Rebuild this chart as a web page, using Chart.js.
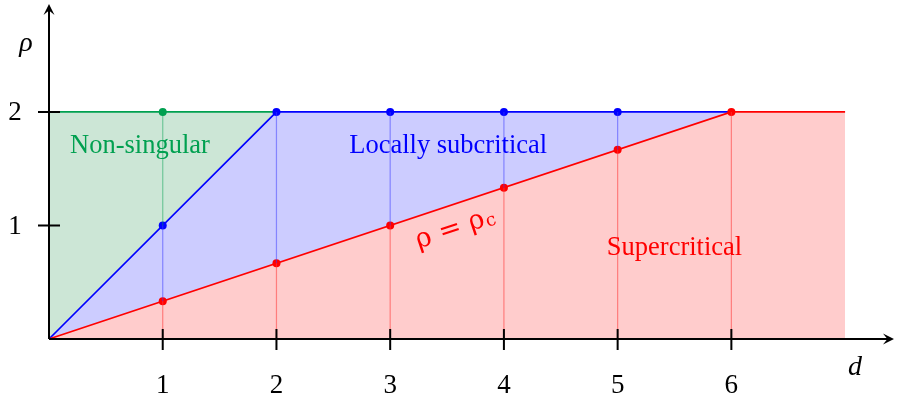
<!DOCTYPE html>
<html><head><meta charset="utf-8">
<script src="https://cdn.jsdelivr.net/npm/chart.js@4"></script>
<style>html,body{margin:0;padding:0;background:#fff;}#wrap{width:898px;height:404px;}</style>
</head><body><div id="wrap"><canvas id="c" width="898" height="404"></canvas></div>
<script>
// ---- data ----
const dTicks = [1, 2, 3, 4, 5, 6];
const rhoTicks = [1, 2];
const dGrid = [1, 2, 3, 4, 5, 6];
const rhoCritical = [0.333, 0.667, 1, 1.333, 1.667, 2];   // red points (rho = rho_c)
const rhoUpper = [1, 2, 2, 2, 2, 2];                      // blue points (upper edge of locally subcritical)
const rhoMax = 2;
const redBoundaryD = [0, 6, 7];
const redBoundaryRho = [0, 2, 2];
const blueBoundaryD = [0, 2, 6];
const blueBoundaryRho = [0, 2, 2];
const greenBoundaryD = [0, 2];
const greenBoundaryRho = [2, 2];
const greenPointD = [1];
const greenPointRho = [2];
const bluePointD = [1, 2, 3, 4, 5];
const bluePointRho = [1, 2, 2, 2, 2];

const RED = 'rgb(255,0,0)', BLUE = 'rgb(0,0,255)', GREEN = 'rgb(0,160,80)';
const pts = (xs, ys) => xs.map((x, i) => ({x, y: ys[i]}));

// vertical segments
const redSeg = [], blueSeg = [], greenSeg = [];
dGrid.forEach((d, i) => {
  redSeg.push({x: d, y: 0}, {x: d, y: rhoCritical[i]}, {x: d, y: null});
  if (rhoUpper[i] > rhoCritical[i]) blueSeg.push({x: d, y: rhoCritical[i]}, {x: d, y: rhoUpper[i]}, {x: d, y: null});
  if (rhoMax > rhoUpper[i]) greenSeg.push({x: d, y: rhoUpper[i]}, {x: d, y: rhoMax}, {x: d, y: null});
});

const axesPlugin = {
  id: 'axes',
  afterDatasetsDraw(chart) {
    const ctx = chart.ctx, xs = chart.scales.x, ys = chart.scales.y;
    const x0 = xs.getPixelForValue(0), y0 = ys.getPixelForValue(0);
    const ca = chart.chartArea;
    ctx.save();
    // region labels
    ctx.textAlign = 'center'; ctx.textBaseline = 'middle';
    ctx.font = '26.5px "Liberation Serif"';
    ctx.fillStyle = GREEN; ctx.fillText('Non-singular', xs.getPixelForValue(0.8), ys.getPixelForValue(1.70));
    ctx.fillStyle = BLUE; ctx.fillText('Locally subcritical', xs.getPixelForValue(3.51), ys.getPixelForValue(1.70));
    ctx.fillStyle = RED; ctx.fillText('Supercritical', xs.getPixelForValue(5.5), ys.getPixelForValue(0.80));
    // rho = rho_c along the line
    const ang = Math.atan2(ys.getPixelForValue(2) - y0, xs.getPixelForValue(6) - x0);
    ctx.save();
    ctx.translate(xs.getPixelForValue(3.57), ys.getPixelForValue(0.97));
    ctx.rotate(ang);
    ctx.font = '27px "DejaVu Serif"';
    ctx.textAlign = 'left';
    const main = 'ρ = ρ';
    const w = ctx.measureText(main).width;
    ctx.font = '18px "DejaVu Serif"';
    const ws = ctx.measureText('c').width;
    const start = -(w + ws) / 2;
    ctx.font = '27px "DejaVu Serif"';
    ctx.fillText(main, start, 0);
    ctx.font = '18px "DejaVu Serif"';
    ctx.fillText('c', start + w + 1, 4);
    ctx.restore();

    // axes
    ctx.strokeStyle = '#000'; ctx.fillStyle = '#000'; ctx.lineWidth = 2;
    ctx.beginPath();
    ctx.moveTo(x0, y0); ctx.lineTo(ca.right - 3, y0);
    ctx.moveTo(x0, y0); ctx.lineTo(x0, ca.top + 3);
    ctx.stroke();
    // arrow heads
    const arrow = (tx, ty, dx, dy) => {
      const L = 11, W = 5.5;
      const px = -dy, py = dx;
      ctx.beginPath();
      ctx.moveTo(tx, ty);
      ctx.lineTo(tx - dx * L + px * W, ty - dy * L + py * W);
      ctx.lineTo(tx - dx * L * 0.6, ty - dy * L * 0.6);
      ctx.lineTo(tx - dx * L - px * W, ty - dy * L - py * W);
      ctx.closePath(); ctx.fill();
    };
    arrow(ca.right, y0, 1, 0);
    arrow(x0, ca.top, 0, -1);
    // ticks
    ctx.beginPath();
    dTicks.forEach(t => { const p = xs.getPixelForValue(t); ctx.moveTo(p, y0 - 10); ctx.lineTo(p, y0 + 11); });
    rhoTicks.forEach(t => { const p = ys.getPixelForValue(t); ctx.moveTo(x0 - 11, p); ctx.lineTo(x0 + 11, p); });
    ctx.stroke();
    // tick labels
    ctx.font = '27px "Liberation Serif"';
    ctx.textAlign = 'center'; ctx.textBaseline = 'middle';
    dTicks.forEach(t => ctx.fillText(String(t), xs.getPixelForValue(t), y0 + 47));
    rhoTicks.forEach(t => ctx.fillText(String(t), 15, ys.getPixelForValue(t) + 1));
    // axis labels
    ctx.font = 'italic 28px "Liberation Serif"';
    ctx.fillText('ρ', 26, 44);
    ctx.fillText('d', 855, 368);
    ctx.restore();
  }
};

new Chart(document.getElementById('c'), {
  type: 'line',
  data: {
    datasets: [
      // vertical segments (top)
      {data: redSeg, borderColor: 'rgba(255,60,60,0.55)', borderWidth: 1.2, pointRadius: 0, fill: false, spanGaps: false, clip: false},
      {data: blueSeg, borderColor: 'rgba(60,60,255,0.5)', borderWidth: 1.2, pointRadius: 0, fill: false, spanGaps: false, clip: false},
      {data: greenSeg, borderColor: 'rgba(0,160,80,0.45)', borderWidth: 1.2, pointRadius: 0, fill: false, spanGaps: false, clip: false},
      // points
      {data: pts(dGrid, rhoCritical), showLine: false, pointRadius: 4, pointBackgroundColor: RED, pointBorderWidth: 0, clip: false},
      {data: pts(bluePointD, bluePointRho), showLine: false, pointRadius: 4, pointBackgroundColor: BLUE, pointBorderWidth: 0, clip: false},
      {data: pts(greenPointD, greenPointRho), showLine: false, pointRadius: 4, pointBackgroundColor: GREEN, pointBorderWidth: 0, clip: false},
      // regions
      {data: pts(redBoundaryD, redBoundaryRho), borderColor: RED, borderWidth: 1.7, pointRadius: 0, fill: 'origin', backgroundColor: '#ffcccc', clip: false},
      {data: pts(blueBoundaryD, blueBoundaryRho), borderColor: BLUE, borderWidth: 1.7, pointRadius: 0, fill: 'origin', backgroundColor: '#ccccff', clip: false},
      {data: pts(greenBoundaryD, greenBoundaryRho), borderColor: GREEN, borderWidth: 1.7, pointRadius: 0, fill: 'origin', backgroundColor: '#cce6d6', clip: false}
    ]
  },
  options: {
    responsive: false, animation: false, devicePixelRatio: 1,
    layout: {padding: {left: 49, right: 2, top: 0, bottom: 65}},
    elements: {line: {tension: 0}},
    scales: {
      x: {type: 'linear', min: 0, max: 7.43, display: false},
      y: {type: 'linear', min: 0, max: 2.95, display: false}
    },
    plugins: {legend: {display: false}, tooltip: {enabled: false}}
  },
  plugins: [axesPlugin]
});
</script>
</body></html>
